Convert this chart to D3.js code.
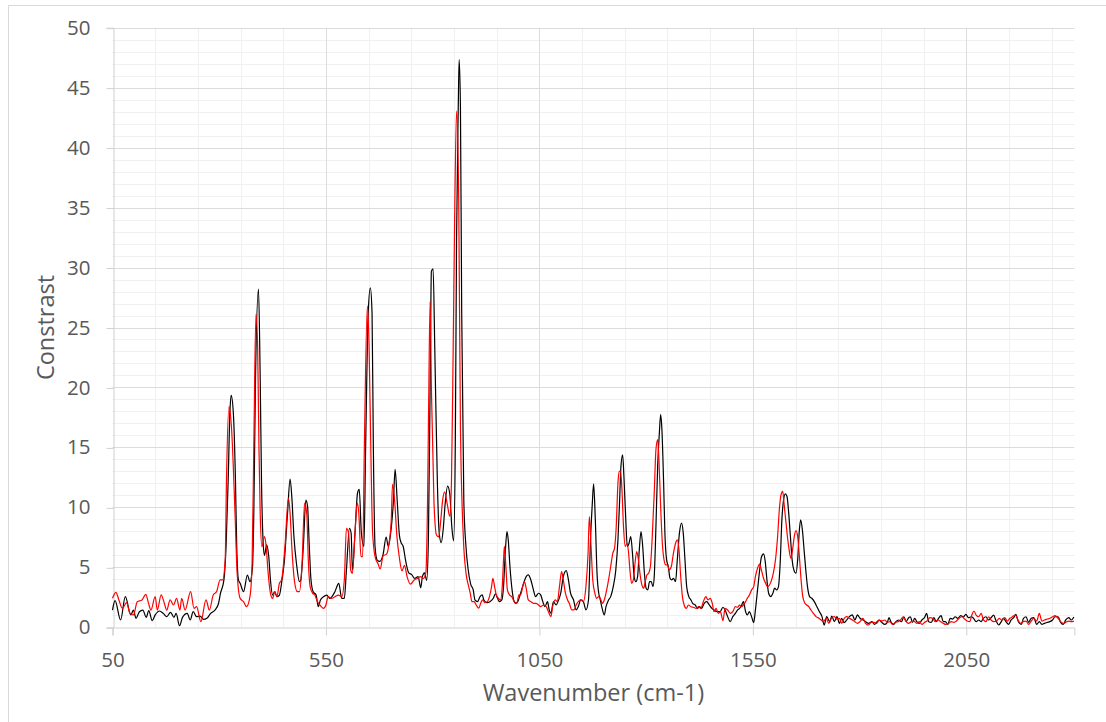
<!DOCTYPE html>
<html>
<head>
<meta charset="utf-8">
<script src="https://cdn.jsdelivr.net/npm/d3@7/dist/d3.min.js"></script>
<style>
  body { margin: 0; background: #fff; }
  svg { display: block; font-family: "Open Sans", sans-serif; }
</style>
</head>
<body>
<div id="chartContainer"></div>
<script>
// spectrum 1 (black), [wavenumber, constrast]
var blackSpectrum = [
  [50,1.44],[56,2.22],[69,0.61],[80,2.56],[93,1.03],[99,1.44],[105,0.75],[113,1.30],[121,1.44],[129,0.83],
  [135,1.39],[143,0.55],[150,1.03],[160,1.36],[169,1.16],[177,0.89],[186,1.25],[194,0.83],[199,1.16],[207,0.13],
  [214,0.83],[225,1.16],[232,0.61],[239,1.30],[247,0.89],[255,0.94],[263,0.66],[271,0.75],[280,1.16],[290,1.44],
  [298,1.94],[303,2.84],[311,3.95],[316,6.73],[321,12.3],[325,17.9],[328,19.35],[333,17.9],[338,12.3],[341,6.73],
  [345,3.95],[349,3.67],[357,2.97],[366,4.36],[372,3.8],[378,5.06],[381,9.5],[385,20.7],[392,28.2],[396,20.7],
  [399,12.3],[403,7.0],[406,6.0],[411,6.87],[416,5.9],[420,3.94],[425,2.69],[430,2.97],[435,2.55],[441,2.69],
  [447,3.94],[452,5.3],[460,9.5],[466,12.36],[470,10.9],[475,7.56],[481,5.3],[488,3.8],[491,3.94],[497,6.73],
  [503,10.6],[507,10.07],[511,6.73],[515,3.94],[520,2.97],[527,2.69],[532,1.72],[537,2.27],[544,2.55],[552,2.69],
  [559,2.41],[571,2.97],[580,3.67],[587,2.41],[593,2.41],[598,4.78],[605,8.26],[609,7.84],[612,4.78],[618,7.84],
  [624,11.2],[628,11.5],[633,7.84],[639,6.73],[643,15.1],[649,26.2],[654,28.3],[658,26.2],[661,15.1],[665,6.73],
  [670,5.6],[676,5.49],[684,6.1],[691,7.53],[696,6.74],[701,7.69],[708,10.5],[712,13.18],[717,10.5],[722,7.69],
  [726,7.06],[731,6.74],[737,5.49],[744,4.54],[751,4.39],[758,4.07],[766,4.23],[772,3.29],[776,4.23],[781,4.54],
  [786,3.92],[790,7.37],[794,19.9],[797,29.7],[801,29.9],[805,23.1],[811,12.09],[815,8.0],[820,7.06],[825,8.31],
  [829,10.2],[835,11.77],[840,11.14],[845,8.31],[849,7.21],[853,15.2],[856,32.5],[860,43.5],[862,47.35],[865,43.5],
  [868,26.2],[873,10.5],[878,6.74],[883,4.86],[889,3.6],[895,3.12],[899,2.28],[905,2.14],[911,2.56],[916,2.7],
  [920,2.28],[927,2.06],[934,2.14],[942,2.42],[947,2.78],[952,2.42],[956,2.14],[962,2.28],[966,3.4],[970,6.18],
  [974,7.99],[977,7.3],[981,5.07],[986,3.12],[991,2.14],[995,2.0],[1001,2.28],[1006,2.84],[1013,3.67],[1019,4.23],
  [1024,4.37],[1030,3.95],[1036,3.12],[1041,2.56],[1048,2.84],[1053,2.7],[1058,2.14],[1063,1.72],[1069,2.14],[1073,1.45],
  [1077,1.17],[1083,2.14],[1089,1.86],[1095,2.28],[1100,2.84],[1106,4.23],[1113,4.73],[1118,3.95],[1123,2.84],[1130,2.28],
  [1136,1.45],[1141,1.72],[1147,2.28],[1153,2.14],[1159,1.45],[1165,2.28],[1170,7.57],[1174,10.36],[1177,11.97],[1181,8.96],
  [1185,4.51],[1189,2.84],[1192,2.4],[1197,1.58],[1202,1.03],[1206,1.72],[1212,2.28],[1217,2.56],[1223,3.39],[1229,4.79],
  [1234,7.29],[1238,10.63],[1241,13.42],[1245,14.39],[1248,12.58],[1252,9.24],[1256,6.74],[1260,7.01],[1264,7.57],[1268,6.18],
  [1272,4.23],[1276,3.81],[1280,4.23],[1284,6.46],[1288,7.99],[1292,6.74],[1296,4.51],[1300,3.26],[1304,3.12],[1308,3.81],
  [1312,3.81],[1316,3.39],[1319,4.23],[1323,8.41],[1327,13.42],[1331,16.2],[1334,17.74],[1337,16.48],[1341,12.03],[1344,7.85],
  [1348,5.62],[1352,5.07],[1356,4.09],[1360,3.95],[1364,4.09],[1369,3.81],[1373,5.62],[1378,7.85],[1383,8.69],[1387,7.85],
  [1391,5.62],[1395,3.39],[1400,2.56],[1405,2.28],[1409,2.0],[1415,1.86],[1420,1.58],[1425,1.72],[1430,1.58],[1436,2.0],
  [1442,2.14],[1448,1.86],[1454,1.58],[1459,1.44],[1466,1.3],[1473,1.3],[1480,1.67],[1485,1.44],[1491,0.89],[1497,0.47],
  [1503,0.89],[1509,1.16],[1514,1.44],[1519,1.58],[1524,1.86],[1528,2.14],[1533,1.3],[1537,1.03],[1542,1.3],[1547,0.89],
  [1552,0.39],[1556,1.44],[1561,3.12],[1566,4.79],[1570,5.84],[1575,6.12],[1579,5.48],[1583,3.95],[1587,2.84],[1592,2.56],
  [1597,2.84],[1601,3.26],[1606,3.12],[1610,3.39],[1614,5.34],[1618,8.96],[1622,10.63],[1626,11.13],[1630,10.91],[1634,9.52],
  [1638,7.57],[1642,5.62],[1646,4.79],[1651,4.51],[1655,5.62],[1659,8.13],[1662,8.96],[1666,8.13],[1670,6.46],[1674,4.79],
  [1678,3.39],[1683,2.56],[1688,2.42],[1694,2.14],[1700,1.72],[1706,1.3],[1712,0.89],[1717,0.19],[1723,0.89],[1730,0.47],
  [1735,0.94],[1741,0.47],[1747,0.89],[1753,0.33],[1758,0.75],[1764,0.39],[1770,0.61],[1776,0.89],[1783,1.03],[1789,0.61],
  [1795,1.03],[1801,0.75],[1808,0.61],[1814,0.47],[1821,0.33],[1829,0.47],[1835,0.24],[1841,0.47],[1846,0.61],[1852,0.41],
  [1859,0.24],[1865,0.41],[1869,0.8],[1874,0.41],[1880,0.24],[1885,0.47],[1891,0.61],[1898,0.47],[1904,0.88],[1909,0.47],
  [1915,0.8],[1919,0.88],[1924,0.41],[1929,0.75],[1934,0.47],[1940,0.33],[1946,0.61],[1952,0.8],[1957,1.16],[1962,0.47],
  [1968,0.41],[1974,0.8],[1980,0.47],[1985,0.75],[1991,0.97],[1996,0.47],[2001,0.47],[2007,0.24],[2012,0.75],[2018,0.69],
  [2024,0.88],[2030,0.75],[2037,0.97],[2043,0.86],[2049,1.08],[2055,0.8],[2062,0.88],[2067,0.75],[2073,0.47],[2079,0.61],
  [2085,0.47],[2090,0.75],[2096,0.88],[2102,0.61],[2108,0.8],[2114,1.02],[2119,0.61],[2126,0.19],[2132,0.47],[2137,0.75],
  [2143,0.47],[2149,0.24],[2155,0.61],[2161,0.8],[2166,1.08],[2172,0.47],[2179,0.24],[2184,0.75],[2190,0.88],[2196,0.41],
  [2202,0.75],[2208,0.8],[2215,0.24],[2221,0.47],[2227,0.24],[2233,0.33],[2240,0.41],[2246,0.47],[2252,0.61],[2258,0.88],
  [2265,0.88],[2271,0.41],[2277,0.24],[2283,0.61],[2290,0.8],[2296,0.61],[2302,0.86]
];

// spectrum 2 (red)
var redSpectrum = [
  [50,2.42],[58,2.92],[65,2.28],[73,1.58],[83,2.06],[91,1.16],[99,1.03],[108,2.14],[119,2.28],[128,2.75],
  [134,2.06],[140,1.44],[150,2.56],[155,1.44],[164,2.7],[171,2.06],[177,1.44],[185,2.28],[193,1.86],[200,2.42],
  [208,1.44],[212,2.42],[220,1.44],[233,2.98],[241,1.58],[247,1.72],[257,0.47],[269,2.28],[277,1.44],[286,2.7],
  [294,2.98],[302,3.95],[308,3.95],[314,5.62],[317,12.3],[323,18.4],[329,16.5],[337,9.5],[342,4.5],[349,2.41],
  [357,2.14],[364,1.72],[372,2.55],[377,5.3],[381,15.1],[386,26.1],[390,23.4],[393,15.1],[396,9.5],[400,6.73],
  [406,7.56],[410,6.73],[414,4.78],[420,2.83],[425,2.41],[430,2.97],[435,2.55],[441,3.67],[446,3.94],[454,6.73],
  [462,10.77],[466,9.5],[470,6.73],[476,3.94],[483,2.97],[488,2.97],[494,5.3],[500,10.35],[505,9.5],[509,5.3],
  [513,3.39],[519,2.83],[524,2.69],[530,2.14],[536,1.86],[544,1.58],[550,1.86],[555,2.55],[563,2.41],[571,2.55],
  [579,2.69],[587,2.55],[593,3.94],[598,8.26],[603,7.84],[608,4.78],[612,4.5],[618,7.84],[623,10.35],[627,9.5],
  [632,5.9],[636,5.9],[640,15.1],[647,26.8],[651,23.4],[655,15.1],[659,8.1],[665,5.9],[672,5.3],[677,4.86],
  [684,5.96],[692,6.1],[698,7.06],[703,8.94],[706,11.93],[711,10.5],[716,7.69],[722,5.8],[728,4.7],[734,5.17],
  [740,4.23],[748,3.6],[756,3.92],[764,4.07],[772,4.23],[778,4.07],[784,4.54],[788,10.5],[791,19.9],[794,27.17],
  [797,19.9],[803,10.5],[809,7.69],[814,7.53],[819,8.94],[823,10.5],[828,11.3],[833,10.5],[836,9.89],[840,9.26],
  [844,12.09],[848,23.1],[852,35.66],[856,43.04],[861,35.66],[865,16.8],[872,7.37],[878,4.54],[883,3.6],[888,2.84],
  [892,2.14],[897,2.14],[902,1.86],[908,1.59],[913,2.06],[917,2.28],[922,2.06],[928,2.14],[933,2.56],[938,3.4],
  [941,4.09],[945,3.4],[949,2.7],[954,2.42],[959,2.28],[963,3.4],[966,5.62],[968,6.74],[971,5.34],[975,3.12],
  [980,2.7],[985,2.56],[991,2.14],[997,2.0],[1002,2.7],[1006,2.7],[1011,3.4],[1015,3.81],[1019,3.26],[1024,2.28],
  [1030,2.14],[1036,2.0],[1042,2.0],[1048,1.86],[1053,1.72],[1059,1.86],[1066,1.72],[1071,1.31],[1077,0.89],[1081,1.72],
  [1087,2.28],[1092,2.14],[1097,3.4],[1102,4.65],[1106,3.95],[1111,2.84],[1116,2.28],[1120,2.0],[1126,1.45],[1131,1.45],
  [1136,1.86],[1141,2.14],[1147,2.28],[1153,2.14],[1159,3.4],[1164,6.18],[1167,9.24],[1171,6.74],[1175,3.95],[1180,2.84],
  [1184,2.42],[1189,2.56],[1194,2.3],[1197,2.0],[1202,2.28],[1206,2.84],[1212,3.95],[1217,5.07],[1222,6.18],[1226,6.6],
  [1230,8.41],[1234,12.03],[1237,13.0],[1240,13.0],[1243,11.75],[1247,8.41],[1251,6.74],[1255,7.01],[1259,6.18],[1262,4.79],
  [1266,3.67],[1270,3.95],[1274,5.34],[1278,6.32],[1282,5.62],[1286,4.37],[1290,3.53],[1294,3.26],[1298,3.81],[1302,4.37],
  [1306,4.51],[1310,5.07],[1314,7.29],[1319,11.19],[1323,14.81],[1327,15.65],[1330,13.98],[1334,10.08],[1338,7.01],[1342,5.62],
  [1346,5.2],[1350,5.2],[1354,4.79],[1359,5.07],[1364,6.18],[1369,7.01],[1373,7.29],[1377,6.46],[1381,4.23],[1385,2.56],
  [1389,1.86],[1394,1.58],[1399,1.86],[1405,1.72],[1411,1.67],[1417,1.58],[1423,1.72],[1428,1.58],[1434,2.14],[1440,2.56],
  [1445,2.28],[1450,2.42],[1455,2.0],[1459,1.3],[1464,1.58],[1469,1.16],[1474,1.3],[1480,0.55],[1485,1.58],[1491,1.44],
  [1497,1.16],[1503,1.3],[1509,1.72],[1514,1.67],[1519,1.86],[1523,1.72],[1528,1.86],[1533,2.14],[1537,2.42],[1542,2.7],
  [1547,3.12],[1552,3.39],[1556,4.23],[1561,4.92],[1566,5.26],[1570,4.79],[1575,4.09],[1580,3.67],[1584,3.39],[1589,3.53],
  [1594,3.95],[1598,4.51],[1603,5.62],[1608,7.57],[1612,9.8],[1616,11.05],[1620,11.33],[1623,10.35],[1627,8.96],[1631,7.57],
  [1635,6.46],[1639,5.76],[1643,6.46],[1647,7.57],[1651,8.07],[1655,7.57],[1659,5.9],[1663,3.95],[1667,2.56],[1672,2.0],
  [1676,1.86],[1681,1.72],[1686,1.44],[1692,1.16],[1698,0.89],[1705,0.75],[1710,0.61],[1715,0.47],[1722,0.75],[1728,0.33],
  [1734,0.75],[1741,0.89],[1747,0.67],[1753,0.75],[1758,0.33],[1764,0.75],[1770,0.89],[1776,0.75],[1783,0.61],[1789,0.47],
  [1795,0.33],[1801,0.47],[1808,0.75],[1814,0.33],[1821,0.19],[1827,0.41],[1834,0.41],[1840,0.33],[1846,0.61],[1852,0.52],
  [1859,0.61],[1865,0.41],[1871,0.47],[1877,0.24],[1884,0.41],[1890,0.47],[1896,0.61],[1902,0.88],[1909,0.47],[1915,0.33],
  [1921,0.47],[1927,0.52],[1934,0.33],[1940,0.47],[1946,0.24],[1952,0.41],[1958,0.52],[1965,0.8],[1971,0.75],[1977,0.47],
  [1984,0.61],[1990,0.47],[1996,0.33],[2002,0.24],[2009,0.33],[2015,0.47],[2021,0.41],[2027,0.52],[2033,0.75],[2040,0.88],
  [2046,0.69],[2052,0.52],[2058,0.47],[2063,1.02],[2068,1.36],[2073,1.02],[2079,0.88],[2085,1.16],[2090,0.61],[2096,0.47],
  [2102,0.88],[2108,0.61],[2115,0.47],[2121,0.52],[2127,0.75],[2133,0.61],[2140,0.8],[2146,0.52],[2152,0.75],[2158,0.88],
  [2165,1.02],[2171,0.61],[2177,0.33],[2183,0.47],[2190,0.52],[2196,0.24],[2202,0.52],[2208,0.75],[2215,0.52],[2221,1.16],
  [2227,0.52],[2233,0.61],[2240,0.69],[2246,0.75],[2252,0.88],[2258,0.97],[2265,0.75],[2271,0.47],[2277,0.33],[2283,0.41],
  [2290,0.52],[2296,0.47],[2302,0.52]
];

var xTicks = [50, 550, 1050, 1550, 2050];
var yTicks = [0, 5, 10, 15, 20, 25, 30, 35, 40, 45, 50];
var xTitle = "Wavenumber (cm-1)";
var yTitle = "Constrast";

var width = 1106, height = 722;
var svg = d3.select("#chartContainer").append("svg")
    .attr("width", width)
    .attr("height", height);

// chart frame
svg.append("rect")
    .attr("x", 8.5).attr("y", 5.5)
    .attr("width", 1110).attr("height", 730)
    .attr("fill", "#fff")
    .attr("stroke", "#d9d9d9");

var x = d3.scaleLinear().domain([50, 2303]).range([112.5, 1074.3]);
var y = d3.scaleLinear().domain([0, 50]).range([627.3, 27.7]);

function px(v){ return Math.round(v) + 0.5; }

// minor gridlines
var grid = svg.append("g");
d3.range(150, 2301, 100).filter(function(v){ return (v - 50) % 500 !== 0; }).forEach(function(v){
    grid.append("line")
        .attr("x1", px(x(v))).attr("x2", px(x(v)))
        .attr("y1", y(50)).attr("y2", y(0))
        .attr("stroke", "#f0f0f0");
});
d3.range(1, 50).filter(function(v){ return v % 5 !== 0; }).forEach(function(v){
    grid.append("line")
        .attr("x1", x(50)).attr("x2", x(2303))
        .attr("y1", px(y(v))).attr("y2", px(y(v)))
        .attr("stroke", "#f0f0f0");
});
// major gridlines
xTicks.slice(1).forEach(function(v){
    grid.append("line")
        .attr("x1", px(x(v))).attr("x2", px(x(v)))
        .attr("y1", y(50)).attr("y2", y(0))
        .attr("stroke", "#dcdcdc");
});
yTicks.slice(1).forEach(function(v){
    grid.append("line")
        .attr("x1", x(50)).attr("x2", x(2303))
        .attr("y1", px(y(v))).attr("y2", px(y(v)))
        .attr("stroke", "#dcdcdc");
});

// axes
var yAxis = svg.append("g")
    .attr("transform", "translate(" + px(x(50)) + ",0)")
    .call(d3.axisLeft(y).tickValues(yTicks).tickFormat(d3.format("d")).tickSize(7).tickPadding(16));
var xAxis = svg.append("g")
    .attr("transform", "translate(0," + px(y(0)) + ")")
    .call(d3.axisBottom(x).tickValues(xTicks).tickFormat(d3.format("d")).tickSize(8).tickPadding(16.5));

[xAxis, yAxis].forEach(function(a){
    a.select(".domain").attr("stroke", "#d0d0d0");
    a.selectAll(".tick line").attr("stroke", "#d0d0d0");
    a.selectAll(".tick text")
        .attr("fill", "#595959")
        .style("font-size", "20.5px")
        .style("font-family", "'Open Sans', sans-serif");
});
yAxis.selectAll(".tick line").attr("transform", "translate(0,0.5)");

// series
var line = d3.line()
    .x(function(d){ return x(d[0]); })
    .y(function(d){ return y(d[1]); })
    .curve(d3.curveMonotoneX);

svg.append("path")
    .datum(blackSpectrum)
    .attr("d", line)
    .attr("fill", "none")
    .attr("stroke", "#000")
    .attr("stroke-width", 1.2);

svg.append("path")
    .datum(redSpectrum)
    .attr("d", line)
    .attr("fill", "none")
    .attr("stroke", "#ff0000")
    .attr("stroke-width", 1.2);

// titles
svg.append("text")
    .attr("x", (x(50) + x(2303)) / 2)
    .attr("y", 701)
    .attr("text-anchor", "middle")
    .attr("fill", "#595959")
    .style("font-size", "23.5px")
    .text(xTitle);

svg.append("text")
    .attr("transform", "translate(54," + ((y(0) + y(50)) / 2) + ") rotate(-90)")
    .attr("text-anchor", "middle")
    .attr("fill", "#595959")
    .style("font-size", "23.5px")
    .text(yTitle);
</script>
</body>
</html>
